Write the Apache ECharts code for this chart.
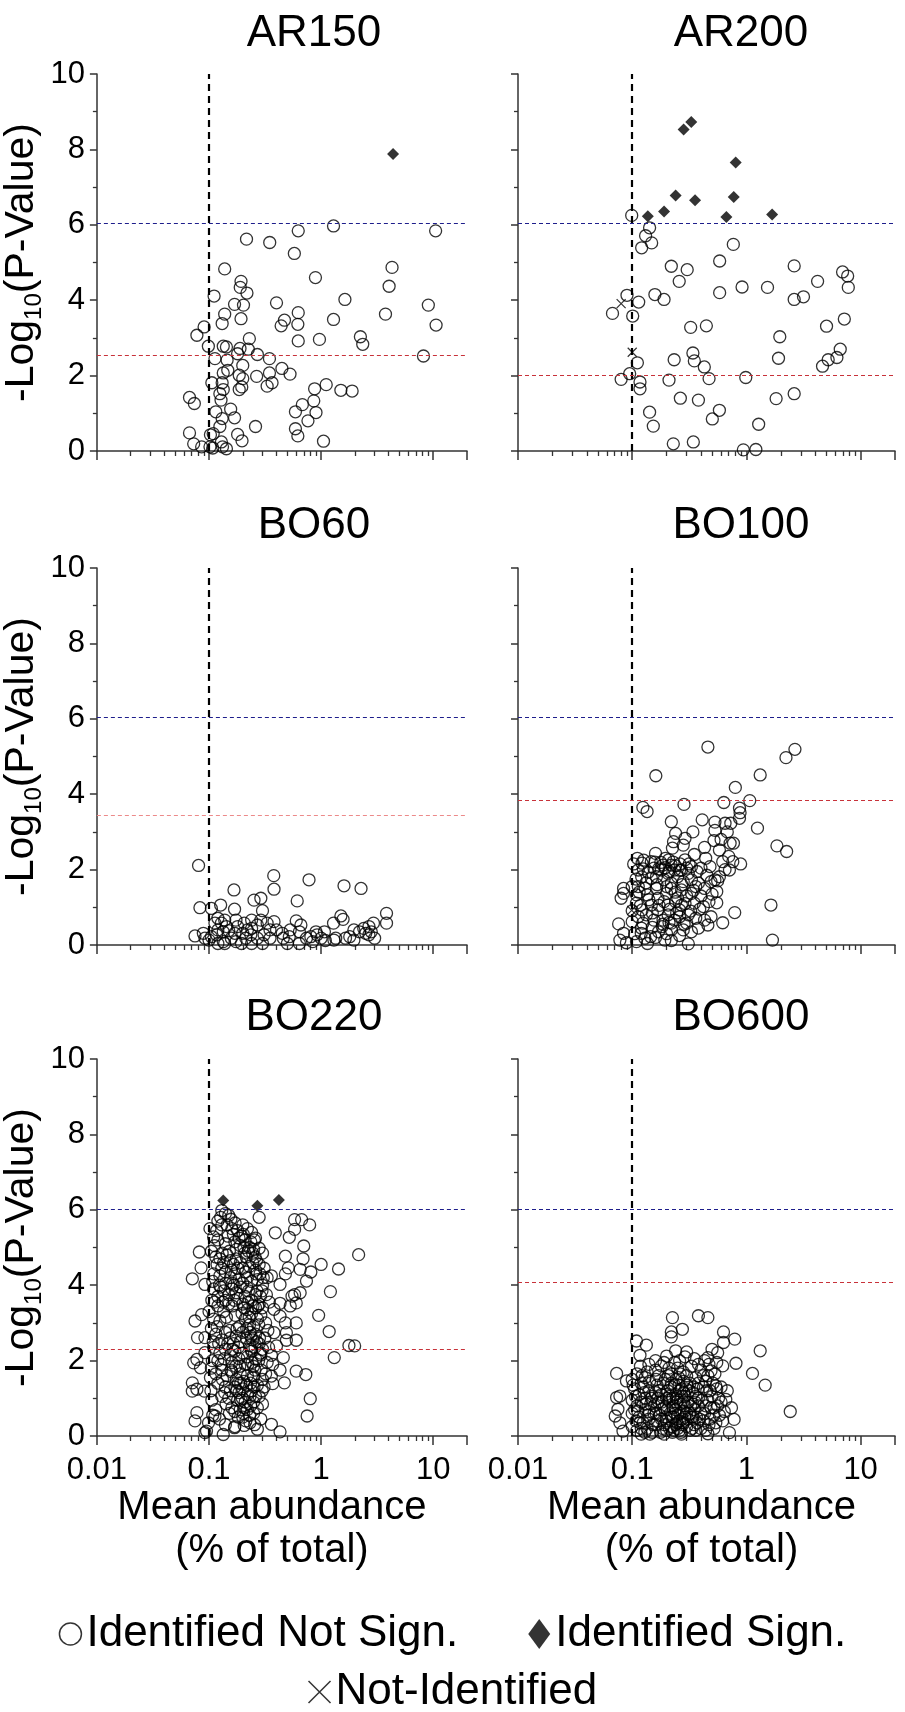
<!DOCTYPE html>
<html><head><meta charset="utf-8">
<script src="https://cdn.jsdelivr.net/npm/echarts@6/dist/echarts.min.js"></script>
<style>html,body{margin:0;padding:0;background:#fff}#c{width:905px;height:1712px}</style>
</head><body><div id="c"></div><script>
// ---------- DATA ----------
const panelNames = ['AR150', 'AR200', 'BO60', 'BO100', 'BO220', 'BO600'];
const xTickValues = [0.01, 0.1, 1, 10];
const xTickLabels = ['0.01', '0.1', '1', '10'];
const xEndTick = 20;
const xMinorTicks = [0.02,0.03,0.04,0.05,0.06,0.07,0.08,0.09,0.2,0.3,0.4,0.5,0.6,0.7,0.8,0.9,2,3,4,5,6,7,8,9];
const abundanceCutoff = 0.1;
const blueThreshold = [6.05, 6.05, 6.03, 6.03, 6.02, 6.02];
const redThreshold = [2.53, 2.0, 3.45, 3.83, 2.30, 4.09];

const AR150_notSign = [[1.29,5.97],[0.625,5.84],[10.5,5.84],[0.216,5.62],[0.348,5.53],[0.577,5.24],[4.29,4.87],[0.138,4.83],[0.89,4.60],[0.193,4.50],[4.04,4.37],[0.19,4.34],[0.218,4.19],[0.111,4.11],[1.63,4.02],[0.169,3.89],[0.203,3.87],[0.40,3.93],[9.04,3.87],[0.625,3.67],[0.138,3.63],[3.75,3.63],[0.193,3.51],[1.29,3.49],[0.471,3.47],[0.131,3.38],[0.62,3.36],[0.44,3.32],[10.6,3.34],[0.0904,3.29],[0.078,3.07],[2.24,3.03],[0.229,2.98],[0.966,2.96],[0.625,2.92],[2.35,2.83],[0.0987,2.78],[0.134,2.78],[0.143,2.76],[0.189,2.72],[0.224,2.70],[0.27,2.56],[8.18,2.52],[0.18,2.58],[0.113,2.45],[0.346,2.45],[0.145,2.41],[0.20,2.27],[0.147,2.14],[0.447,2.19],[0.134,2.07],[0.346,2.07],[0.528,2.04],[0.186,2.01],[0.266,1.98],[0.20,1.92],[0.106,1.81],[0.131,1.81],[1.11,1.76],[0.365,1.81],[0.33,1.72],[0.196,1.70],[0.134,1.63],[1.5,1.61],[1.89,1.59],[0.875,1.65],[0.186,1.63],[0.125,1.52],[0.128,1.35],[0.067,1.42],[0.074,1.26],[0.68,1.23],[0.86,1.33],[0.156,1.11],[0.59,1.04],[0.90,1.02],[0.115,1.04],[0.169,0.88],[0.131,0.86],[0.763,0.80],[0.125,0.65],[0.26,0.65],[0.59,0.59],[0.067,0.48],[0.18,0.44],[0.103,0.43],[0.109,0.46],[0.62,0.40],[0.197,0.27],[1.05,0.26],[0.073,0.19],[0.129,0.24],[0.086,0.11],[0.102,0.11],[0.108,0.08],[0.132,0.11],[0.143,0.06]];
const AR150_sign = [[4.38,7.88]];
const AR150_notId = [];

const AR200_notSign = [[0.099,6.25],[0.142,5.92],[0.131,5.71],[0.148,5.52],[0.121,5.39],[0.768,5.48],[0.583,5.04],[0.22,4.90],[0.303,4.81],[2.62,4.91],[6.95,4.75],[7.7,4.64],[0.258,4.50],[4.2,4.50],[0.916,4.35],[1.53,4.34],[7.8,4.34],[0.583,4.20],[0.158,4.15],[0.090,4.13],[0.19,4.02],[2.62,4.02],[3.16,4.09],[0.114,3.95],[0.0672,3.65],[0.101,3.58],[7.2,3.50],[0.325,3.28],[0.446,3.32],[5.03,3.31],[1.96,3.03],[0.34,2.60],[6.63,2.70],[0.233,2.42],[0.35,2.39],[1.91,2.46],[5.2,2.42],[6.2,2.48],[0.111,2.34],[0.428,2.23],[4.64,2.25],[0.095,2.05],[0.08,1.90],[0.21,1.88],[0.471,1.92],[0.987,1.95],[0.117,1.83],[0.117,1.65],[0.264,1.40],[0.38,1.35],[1.82,1.39],[2.62,1.52],[0.142,1.03],[0.58,1.08],[0.503,0.85],[0.153,0.66],[1.28,0.71],[0.229,0.19],[0.343,0.24],[0.94,0.03],[1.21,0.04]];
const AR200_sign = [[0.282,8.53],[0.329,8.73],[0.806,7.65],[0.24,6.78],[0.775,6.74],[0.355,6.65],[0.19,6.35],[0.137,6.23],[0.668,6.21],[1.68,6.27]];
const AR200_notId = [[0.08,3.91],[0.1,2.62]];

const BO60_notSign = [[0.0807,2.11],[0.378,1.84],[0.78,1.73],[1.6,1.57],[2.27,1.50],[0.167,1.46],[0.38,1.48],[0.252,1.19],[0.29,1.24],[0.612,1.17],[0.127,1.06],[0.083,0.99],[0.105,0.97],[0.169,0.95],[0.30,0.91],[3.83,0.84],[3.83,0.58],[1.5,0.77],[1.57,0.68],[1.29,0.58],[0.6,0.64],[2.93,0.58],[1.96,0.40],[2.4,0.44],[2.67,0.49],[2.2,0.35],[2.8,0.35],[3.0,0.18],[2.67,0.27],[1.65,0.18],[1.3,0.13],[1.96,0.13],[0.9,0.35],[0.92,0.27],[1.0,0.18],[0.81,0.22],[0.66,0.53],[0.64,0.35],[0.64,0.04],[0.5,0.04],[0.46,0.18],[0.45,0.31],[0.38,0.62],[0.33,0.58],[0.35,0.40],[0.31,0.27],[0.30,0.04],[0.236,0.27],[0.24,0.66],[0.24,0.44],[0.27,0.53],[0.206,0.58],[0.22,0.40],[0.195,0.04],[0.24,0.04],[0.18,0.49],[0.17,0.31],[0.158,0.18],[0.143,0.49],[0.134,0.35],[0.138,0.66],[0.12,0.71],[0.129,0.58],[0.12,0.40],[0.117,0.27],[0.12,0.04],[0.138,0.04],[0.105,0.22],[0.1,0.13],[0.089,0.31],[0.075,0.24],[0.092,0.18],[0.15,0.38],[0.2,0.31],[0.27,0.18],[0.35,0.18],[0.4,0.40],[0.52,0.22],[0.53,0.40],[1.07,0.35],[1.09,0.12],[0.84,0.09],[0.74,0.18],[1.35,0.18],[0.213,0.18],[0.174,0.09],[0.134,0.09],[0.113,0.58],[0.174,0.66],[0.29,0.66],[1.8,0.22],[2.5,0.31]];
const BO60_sign = [];
const BO60_notId = [];

const BO100_notSign = [[0.46,5.25],[2.66,5.19],[2.22,4.97],[0.161,4.49],[1.32,4.51],[0.8,4.18],[0.284,3.73],[0.634,3.78],[1.07,3.83],[0.124,3.65],[0.135,3.54],[0.87,3.63],[0.87,3.36],[0.88,3.51],[0.22,3.27],[0.41,3.32],[0.53,3.26],[0.65,3.23],[0.73,3.23],[1.25,3.1],[0.24,2.96],[0.34,3.0],[0.53,3.04],[0.29,2.83],[0.23,2.74],[0.52,2.77],[0.72,2.70],[0.77,2.70],[1.85,2.63],[2.25,2.48],[0.43,2.59],[0.58,2.52],[0.28,2.65],[0.225,2.57],[0.16,2.43],[0.111,2.30],[0.122,2.17],[0.147,2.21],[0.178,2.19],[0.209,2.26],[0.22,2.12],[0.29,2.26],[0.33,2.08],[0.4,2.04],[0.48,2.08],[0.62,2.21],[0.76,2.21],[0.89,2.15],[0.71,1.99],[0.113,1.99],[0.121,1.81],[0.155,2.04],[0.18,1.99],[0.206,1.90],[0.235,1.99],[0.25,1.81],[0.30,2.04],[0.186,2.12],[0.163,1.81],[0.58,1.81],[0.49,1.68],[0.53,1.73],[0.38,1.64],[0.33,1.73],[0.1,1.55],[0.084,1.50],[0.08,1.24],[0.084,1.37],[0.109,1.33],[0.109,1.11],[0.136,1.33],[0.163,1.50],[0.2,1.37],[0.22,1.50],[0.27,1.46],[0.33,1.37],[0.4,1.30],[0.55,1.42],[0.55,1.12],[0.42,1.02],[0.35,1.11],[0.27,1.06],[0.24,1.15],[0.26,0.93],[0.206,1.06],[0.168,0.93],[0.147,1.06],[0.122,0.93],[0.1,0.91],[1.64,1.06],[0.79,0.86],[0.62,0.59],[0.49,0.75],[0.43,0.66],[0.46,0.53],[0.36,0.71],[0.31,0.80],[0.30,0.58],[0.33,0.35],[0.28,0.40],[0.22,0.58],[0.22,0.40],[0.186,0.66],[0.183,0.49],[0.155,0.66],[0.15,0.47],[0.124,0.58],[0.12,0.31],[0.129,0.18],[0.145,0.22],[0.1,0.62],[0.076,0.56],[0.078,0.13],[0.084,0.31],[0.089,0.06],[0.109,0.09],[0.136,0.04],[0.193,0.13],[0.22,0.12],[0.31,0.03],[1.69,0.13],[0.206,0.80],[0.235,0.66],[0.26,0.75],[0.133,0.80],[0.113,1.55],[0.13,1.50],[0.147,1.77],[0.19,1.73],[0.22,1.64],[0.28,1.68],[0.43,1.50],[0.47,1.15],[0.168,1.24],[0.19,1.15],[0.113,0.75],[0.27,1.99],[0.195,2.05],[0.21,1.95],[0.24,2.10],[0.26,1.98],[0.17,2.02],[0.125,2.02],[0.138,1.93],[0.31,1.90],[0.36,1.55],[0.25,1.25],[0.29,1.10],[0.21,0.60],[0.17,0.35],
[0.103,2.15],[0.108,1.75],[0.115,1.4],[0.118,1.05],[0.126,2.25],[0.132,1.65],[0.14,1.2],[0.15,0.85],[0.158,2.2],[0.165,1.6],[0.172,1.05],[0.185,0.55],[0.195,2.3],[0.2,1.55],[0.213,0.95],[0.228,2.2],[0.238,1.4],[0.245,0.85],[0.262,2.15],[0.272,1.6],[0.285,0.55],[0.3,1.3],[0.315,2.15],[0.325,0.9],[0.345,1.45],[0.37,1.95],[0.39,0.95],[0.45,1.85],[0.5,1.35],[0.56,1.7],[0.65,2.0],[0.7,2.35],[0.105,0.3],[0.12,0.45],[0.16,0.2],[0.2,0.3],[0.26,0.25],[0.38,0.45],[0.44,2.3],[0.35,2.4],[0.6,2.8],[0.68,3.0]];
const BO100_sign = [];
const BO100_notId = [[0.099,0.92]];

const BO220_notSign = [[2.16,4.81],[1.43,4.43],[1.0,4.55],[1.21,3.83],[0.95,3.20],[1.18,2.77],[1.77,2.40],[1.99,2.39],[1.31,2.08],[0.8,0.99],[0.75,0.53],[0.79,5.60],[0.67,5.74],[0.58,5.74],[0.58,5.48],[0.52,5.27],[0.39,5.39],[0.28,5.80],[0.7,5.04],[0.69,4.70],[0.65,4.42],[0.81,4.35],[0.74,4.11],[0.51,4.46],[0.48,4.77],[0.48,4.30],[0.43,4.02],[0.65,3.80],[0.58,3.75],[0.55,3.71],[0.6,3.53],[0.53,3.45],[0.43,3.52],[0.38,3.36],[0.43,3.18],[0.6,3.0],[0.48,3.0],[0.49,2.74],[0.49,2.54],[0.6,2.54],[0.38,2.74],[0.4,2.39],[0.46,2.08],[0.36,2.14],[0.37,1.90],[0.43,1.75],[0.36,1.59],[0.47,1.41],[0.37,1.39],[0.6,1.72],[0.73,1.63],[0.36,0.31],[0.43,0.11],[0.27,0.18],[0.206,0.28],[0.169,0.22],[0.134,0.04],[0.113,0.53],[0.099,0.35],[0.092,0.09],[0.078,0.62],[0.075,0.40],[0.095,0.13],[0.082,4.88],[0.071,4.17],[0.085,4.46],[0.092,4.02],[0.075,3.05],[0.086,3.22],[0.079,2.61],[0.073,1.94],[0.078,2.03],[0.084,1.81],[0.071,1.41],[0.071,1.19],[0.078,1.24],[0.091,1.19],[0.092,2.21],[0.092,2.61],
[0.13,5.98],[0.14,5.9],[0.15,5.85],[0.12,5.7],[0.13,5.6],[0.16,5.5],[0.18,5.45],[0.2,5.6],[0.22,5.5],[0.24,5.4],[0.26,5.25],[0.11,5.28],[0.12,5.2],[0.14,5.1],[0.17,5.15],[0.19,5.05],[0.21,5.2],[0.23,5.0],[0.25,4.95],[0.28,4.98],[0.3,4.85],
[0.105,4.9],[0.115,4.75],[0.125,4.7],[0.135,4.6],[0.145,4.8],[0.155,4.65],[0.165,4.55],[0.175,4.7],[0.19,4.6],[0.2,4.45],[0.215,4.75],[0.23,4.5],[0.245,4.6],[0.26,4.4],[0.28,4.55],[0.31,4.45],[0.33,4.2],[0.36,4.25],[0.11,4.3],[0.125,4.25],[0.14,4.35],[0.155,4.2],[0.17,4.3],[0.185,4.15],[0.2,4.05],[0.22,4.2],[0.24,4.1],[0.27,4.15],[0.3,4.0],[0.13,4.45],[0.18,4.45],
[0.11,3.9],[0.12,3.7],[0.135,3.85],[0.15,3.75],[0.16,3.9],[0.175,3.8],[0.19,3.95],[0.21,3.7],[0.225,3.85],[0.24,3.6],[0.26,3.75],[0.28,3.5],[0.3,3.4],[0.12,3.45],[0.135,3.3],[0.15,3.5],[0.14,3.6],[0.2,3.5],[0.22,3.35],[0.24,3.25],[0.26,3.4],[0.27,3.1],[0.1,3.3],[0.11,3.1],[0.125,3.05],[0.21,3.1],[0.23,2.95],[0.25,2.9],[0.29,3.2],[0.32,3.0],
[0.105,2.85],[0.115,2.7],[0.13,2.55],[0.14,2.75],[0.155,2.6],[0.165,2.45],[0.175,2.65],[0.19,2.5],[0.2,2.75],[0.215,2.6],[0.23,2.4],[0.245,2.55],[0.26,2.7],[0.28,2.45],[0.3,2.3],[0.11,2.35],[0.125,2.2],[0.14,2.3],[0.155,2.15],[0.17,2.25],[0.185,2.05],[0.2,2.2],[0.22,2.1],[0.24,2.25],[0.26,2.05],[0.29,2.15],[0.12,2.0],[0.16,1.95],[0.21,1.9],[0.25,1.85],
[0.105,1.8],[0.115,1.65],[0.13,1.75],[0.145,1.6],[0.16,1.7],[0.175,1.5],[0.19,1.65],[0.205,1.45],[0.22,1.6],[0.235,1.4],[0.25,1.55],[0.27,1.35],[0.3,1.5],[0.12,1.4],[0.14,1.3],[0.155,1.2],[0.17,1.3],[0.185,1.15],[0.2,1.25],[0.22,1.1],[0.24,1.2],[0.26,1.05],[0.13,1.05],[0.15,1.0],[0.18,0.95],[0.21,0.9],[0.235,0.8],[0.25,0.9],
[0.16,0.75],[0.17,0.65],[0.19,0.7],[0.2,0.5],[0.23,0.55],[0.25,0.6],[0.14,0.3],[0.17,0.25],[0.22,0.7],[0.115,0.7],
[0.102,5.5],[0.108,4.1],[0.112,3.55],[0.118,2.9],[0.122,2.45],[0.128,1.9],[0.132,1.5],[0.138,1.15],[0.142,0.85],[0.148,5.3],[0.152,4.9],[0.158,4.4],[0.162,4.05],[0.168,3.6],[0.172,3.2],[0.178,2.85],[0.182,2.35],[0.188,1.85],[0.192,1.4],[0.198,1.0],[0.202,5.35],[0.208,4.85],[0.212,4.35],[0.218,3.95],[0.222,3.55],[0.228,3.15],[0.232,2.75],[0.238,2.3],[0.242,1.95],[0.248,1.6],[0.252,1.3],[0.258,4.75],[0.262,4.3],[0.268,3.85],[0.272,3.45],[0.278,2.95],[0.282,2.6],[0.288,2.2],[0.292,1.75],[0.298,1.2],[0.112,5.05],[0.118,4.55],[0.124,4.0],[0.133,3.55],[0.143,3.15],[0.153,2.8],[0.163,2.3],[0.173,1.85],[0.183,1.4],[0.193,0.95],[0.203,0.6],[0.213,0.4],[0.145,5.6],[0.165,5.35],[0.185,5.25],[0.205,5.0],[0.225,4.9],[0.245,4.85],[0.265,4.65],[0.285,4.3],[0.305,4.2],[0.325,3.75],[0.345,3.55],[0.335,2.8],[0.315,2.6],[0.34,2.35],[0.33,1.95],[0.32,1.65],[0.31,1.3],[0.28,1.05],[0.3,0.85],[0.27,0.75],[0.255,0.3],[0.29,0.45],[0.106,3.6],[0.109,2.5],[0.107,2.0],[0.103,1.55],[0.104,1.2],[0.106,0.95],[0.108,0.55],[0.124,0.45],[0.117,5.45],[0.127,5.8],[0.157,5.75],[0.171,5.65],[0.196,5.3],[0.236,5.15],[0.254,5.2],[0.176,4.95],[0.131,4.85],[0.141,4.05],[0.161,3.45],[0.181,3.65],[0.197,3.25],[0.217,2.85],[0.237,2.65],[0.257,2.35],[0.277,2.0],[0.187,2.9],[0.147,2.45],[0.137,2.05],[0.157,1.75],[0.177,1.2],[0.217,1.35],[0.257,1.75],[0.232,1.05],[0.207,0.75],[0.182,0.5],[0.152,0.6],[0.232,0.35],[0.222,1.9],[0.267,2.5],[0.247,3.45],[0.207,3.4],[0.127,3.95],[0.167,4.0],[0.287,3.7],[0.297,3.85]];
const BO220_sign = [[0.134,6.25],[0.27,6.11],[0.42,6.26]];
const BO220_notId = [];

const BO600_notSign = [[0.225,3.14],[0.38,3.19],[0.46,3.14],[0.275,2.83],[0.22,2.76],[0.22,2.63],[0.63,2.76],[0.79,2.57],[0.109,2.52],[0.133,2.41],[0.117,2.14],[0.63,2.48],[1.32,2.26],[0.81,1.93],[0.62,1.86],[1.13,1.66],[1.46,1.35],[2.42,0.65],[0.073,1.66],[0.078,1.06],[0.073,1.02],[0.075,0.71],[0.071,0.53],[0.078,0.35],[0.083,0.13],[0.089,1.46],[0.78,0.44],[0.74,0.75],[0.66,0.97],[0.71,0.09],[0.46,0.06],[0.54,1.33],[0.49,1.73],[0.56,2.21],[0.46,2.08],[0.38,1.90],[0.3,2.23],[0.24,2.26],[0.2,2.12],[0.18,1.86],[0.235,1.95],
[0.1,1.5],[0.11,1.65],[0.12,1.4],[0.13,1.55],[0.105,1.25],[0.115,1.1],[0.125,1.3],[0.14,1.2],[0.1,0.95],[0.11,0.8],[0.12,0.9],[0.13,0.7],[0.1,0.6],[0.115,0.5],[0.125,0.35],[0.1,0.25],[0.11,0.15],[0.12,0.05],[0.135,0.2],[0.14,0.45],[0.145,0.85],[0.15,1.05],[0.155,0.6],[0.16,0.3],[0.165,1.35],[0.17,0.9],[0.175,0.55],[0.18,1.1],[0.185,0.2],[0.19,0.75],[0.195,1.5],[0.2,0.4],[0.205,1.2],[0.21,0.95],[0.215,0.6],[0.22,1.65],[0.225,0.1],[0.23,0.8],[0.235,1.35],[0.24,0.3],[0.245,1.0],[0.25,0.55],[0.255,1.55],[0.26,0.15],[0.265,0.85],[0.27,1.25],[0.275,0.45],[0.28,1.7],[0.285,0.65],[0.29,1.05],[0.3,0.25],[0.31,0.9],[0.32,1.4],[0.33,0.5],[0.34,1.15],[0.35,0.7],[0.36,1.55],[0.37,0.35],[0.38,1.0],[0.4,0.6],[0.42,1.3],[0.44,0.8],[0.46,1.6],[0.48,0.45],[0.5,1.05],[0.52,0.75],[0.55,1.25],[0.58,0.55],[0.15,0.1],[0.17,1.6],[0.19,0.05],[0.21,1.8],[0.23,0.5],[0.25,0.2],[0.27,0.05],[0.13,1.0],[0.16,1.75],[0.18,0.45],[0.2,1.0],[0.22,0.25],[0.24,0.7],[0.26,1.2],[0.28,0.35],[0.3,1.6],[0.32,0.15],[0.34,0.5],[0.36,1.05],[0.4,0.2],[0.44,1.45],[0.48,1.2],[0.6,0.9],[0.62,0.4],[0.105,0.7],[0.12,0.2],[0.14,0.65],[0.16,1.15],[0.18,0.7],[0.2,0.15],[0.22,1.4],[0.24,1.1],[0.26,0.4],[0.28,0.9],[0.3,0.6],[0.35,0.3],[0.38,0.8],[0.42,0.4],[0.46,0.95],[0.52,0.2],[0.135,1.7],[0.25,1.8],[0.33,1.85],[0.4,1.75],[0.47,1.9],[0.53,1.65],
[0.102,1.35],[0.107,1.05],[0.112,0.65],[0.117,0.35],[0.122,1.6],[0.127,1.15],[0.132,0.85],[0.137,0.55],[0.142,1.45],[0.147,1.0],[0.152,0.3],[0.157,0.8],[0.162,1.5],[0.167,0.4],[0.172,1.2],[0.177,0.1],[0.182,0.9],[0.187,1.4],[0.192,0.3],[0.197,1.1],[0.202,0.7],[0.207,1.6],[0.212,0.2],[0.217,1.3],[0.222,0.5],[0.227,1.0],[0.232,0.15],[0.237,0.6],[0.242,1.5],[0.247,0.35],[0.252,0.95],[0.257,1.35],[0.262,0.6],[0.267,0.1],[0.272,1.05],[0.277,0.3],[0.282,1.45],[0.287,0.5],[0.292,0.8],[0.297,1.25],[0.305,0.45],[0.315,1.2],[0.325,0.8],[0.335,0.2],[0.345,1.3],[0.355,0.9],[0.365,0.5],[0.375,1.25],[0.39,0.45],[0.41,0.95],[0.43,0.6],[0.45,1.2],[0.47,0.3],[0.49,0.75],[0.51,1.4],[0.54,0.35],[0.57,1.0],[0.64,0.65],[0.68,1.2],[0.16,2.0],[0.19,1.95],[0.26,2.0],[0.29,2.1],[0.35,2.05],[0.43,2.0],[0.5,2.3],[0.55,1.95],[0.118,1.85],[0.14,1.9],[0.108,0.4],[0.129,0.1],[0.143,0.05],[0.162,0.6],[0.168,1.0],[0.198,0.5],[0.213,1.05],[0.228,0.75],[0.243,0.9],[0.263,1.65],[0.283,1.15],[0.3,1.35],[0.32,0.6],[0.34,0.85],[0.36,0.15],[0.38,1.4],[0.42,1.6],[0.44,0.15],[0.52,0.55],[0.56,0.8],[0.6,1.3]];
const BO600_sign = [];
const BO600_notId = [];

const notSignData = [AR150_notSign, AR200_notSign, BO60_notSign, BO100_notSign, BO220_notSign, BO600_notSign];
const signData = [AR150_sign, AR200_sign, BO60_sign, BO100_sign, BO220_sign, BO600_sign];
const notIdData = [AR150_notId, AR200_notId, BO60_notId, BO100_notId, BO220_notId, BO600_notId];

const legendNames = ['Identified Not Sign.', 'Identified Sign.', 'Not-Identified'];
const xAxisName = 'Mean abundance\n(% of total)';
const yAxisName = '-Log{sub|10}(P-Value)';

// ---------- LAYOUT / STYLE ----------
const FONT = "'Liberation Sans', Arial, Helvetica, sans-serif";
const AX = '#333';
const gridLeft = [90, 518];
const gridTop = [74, 568, 1059];
const gridW = 377, gridH = 377;
const titleX = [309, 736];
const titleTop = [7, 499, 991];
const redColors = ['#c8323a', '#c8323a', '#ec8a8a', '#c8323a', '#c8323a', '#c8323a'];
const X_PATH = 'path://M0,0L10,10M10,0L0,10';

const grids = [], xAxes = [], yAxes = [], series = [], titles = [];
panelNames.forEach((name, i) => {
  const col = i % 2, row = Math.floor(i / 2);
  const bottomRow = row === 2, leftCol = col === 0;
  grids.push({ left: gridLeft[col], top: gridTop[row], width: gridW, height: gridH });
  titles.push({ text: name, left: titleX[col], top: titleTop[row], textAlign: 'center',
    textStyle: { fontSize: 44, fontWeight: 'normal', color: '#000', fontFamily: FONT } });
  xAxes.push({
    gridIndex: i, type: 'log', logBase: 10, min: 0.01, max: 20, position: 'bottom',
    axisLine: { show: true, onZero: false, lineStyle: { color: AX, width: 1.5 } },
    axisTick: { show: true, length: 9, customValues: xTickValues.concat([xEndTick]), lineStyle: { color: AX, width: 1.5 } },
    axisLabel: { show: bottomRow, customValues: xTickValues, margin: 19, fontSize: 31, color: '#000', fontFamily: FONT,
      formatter: v => xTickLabels[Math.round(Math.log10(v)) + 2] },
    splitLine: { show: false },
    name: bottomRow ? xAxisName : '', nameLocation: 'middle', nameGap: 49,
    nameTextStyle: { fontSize: 40, lineHeight: 43, color: '#000', fontFamily: FONT, padding: [0, leftCol ? 20 : 10, 0, 0] }
  });
  xAxes.push({
    gridIndex: i, type: 'log', logBase: 10, min: 0.01, max: 20, position: 'bottom',
    axisLine: { show: false },
    axisTick: { show: true, length: 5, customValues: xMinorTicks, lineStyle: { color: AX, width: 1.3 } },
    axisLabel: { show: false }, splitLine: { show: false }
  });
  yAxes.push({
    gridIndex: i, type: 'value', min: 0, max: 10, interval: 2,
    axisLine: { show: true, onZero: false, lineStyle: { color: AX, width: 1.5 } },
    axisTick: { show: true, length: 7, lineStyle: { color: AX, width: 1.5 } },
    minorTick: { show: true, splitNumber: 2, length: 4, lineStyle: { color: AX, width: 1.3 } },
    axisLabel: { show: leftCol, margin: 12, fontSize: 31, color: '#000', fontFamily: FONT },
    splitLine: { show: false }, minorSplitLine: { show: false },
    name: leftCol ? yAxisName : '', nameLocation: 'middle', nameGap: 33,
    nameTextStyle: { fontSize: 41, color: '#000', fontFamily: FONT,
      rich: { sub: { fontSize: 24, color: '#000', fontFamily: FONT, padding: [26, 0, 0, 0] } } }
  });
  series.push({
    type: 'scatter', name: legendNames[0], xAxisIndex: 2 * i, yAxisIndex: i, data: notSignData[i],
    symbol: 'circle', symbolSize: 12,
    itemStyle: { color: 'rgba(0,0,0,0)', borderColor: '#000', borderWidth: 1.3 },
    markLine: { silent: true, symbol: ['none', 'none'], animation: false, label: { show: false },
      data: [
        { xAxis: abundanceCutoff, lineStyle: { color: '#000', width: 2.2, type: [7, 5] } },
        { yAxis: blueThreshold[i], lineStyle: { color: '#1e1e8c', width: 1.2, type: [4, 3] } },
        { yAxis: redThreshold[i], lineStyle: { color: redColors[i], width: 1.2, type: [4, 3] } }
      ] },
    z: 3
  });
  series.push({
    type: 'scatter', name: legendNames[1], xAxisIndex: 2 * i, yAxisIndex: i, data: signData[i],
    symbol: 'diamond', symbolSize: 12, itemStyle: { color: '#000' }, z: 4
  });
  series.push({
    type: 'scatter', name: legendNames[2], xAxisIndex: 2 * i, yAxisIndex: i, data: notIdData[i],
    symbol: X_PATH, symbolSize: 9, itemStyle: { color: 'rgba(0,0,0,0)', borderColor: '#000', borderWidth: 1.2 }, z: 4
  });
});

const legendText = { fontSize: 44, color: '#000', fontFamily: FONT };
const option = {
  animation: false,
  backgroundColor: '#fff',
  title: titles,
  grid: grids, xAxis: xAxes, yAxis: yAxes, series: series,
  legend: [
    { data: [{ name: legendNames[0], icon: 'circle' }, { name: legendNames[1], icon: 'path://M11,0L22,15L11,30L0,15Z' }],
      left: 'center', top: 1607, itemWidth: 22, itemHeight: 30, itemGap: 70, selectedMode: false,
      textStyle: legendText, itemStyle: { borderWidth: 1.5 } },
    { data: [{ name: legendNames[2], icon: X_PATH }],
      left: 'center', top: 1665, itemWidth: 22, itemHeight: 22, selectedMode: false,
      textStyle: legendText, itemStyle: { borderWidth: 1.5 } }
  ]
};
const chart = echarts.init(document.getElementById('c'), null, { renderer: 'canvas' });
chart.setOption(option);
</script></body></html>
